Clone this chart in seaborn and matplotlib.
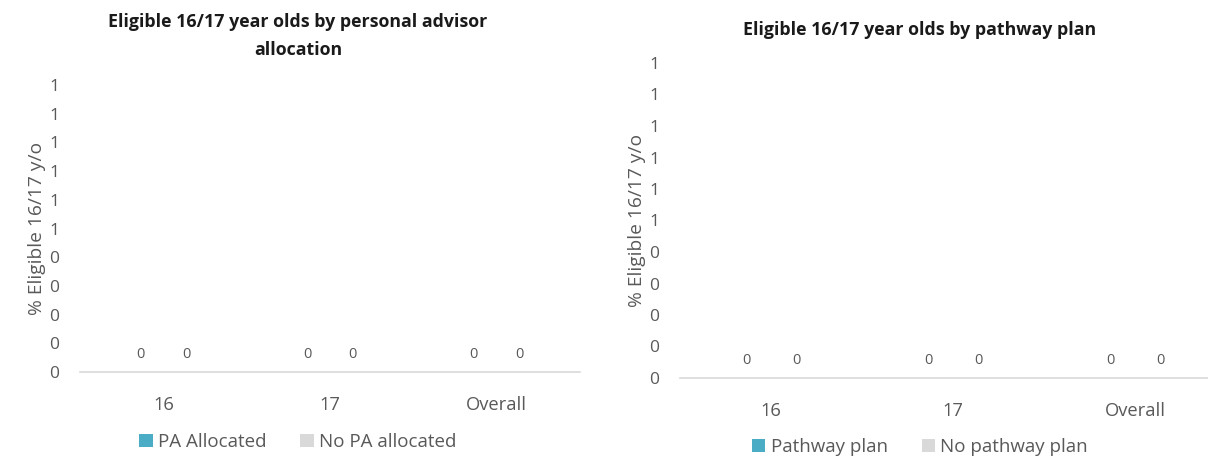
import numpy as np
import pandas as pd
import matplotlib
matplotlib.use("Agg")
import matplotlib.pyplot as plt
import seaborn as sns
from matplotlib.patches import Patch

sns.set_theme(style="white")
plt.rcParams['font.family'] = ['Open Sans', 'DejaVu Sans']

categories = ["16", "17", "Overall"]
pa_allocated = [0, 0, 0]
no_pa_allocated = [0, 0, 0]
pathway_plan = [0, 0, 0]
no_pathway_plan = [0, 0, 0]
ytick_values = [0.0, 0.1, 0.2, 0.3, 0.4, 0.5, 0.6, 0.7, 0.8, 0.9, 1.0]
ytick_labels = ["0", "0", "0", "0", "0", "1", "1", "1", "1", "1", "1"]

TEAL = "#4BACC6"
GREY = "#D9D9D9"
TXT = "#595959"

fig = plt.figure(figsize=(12.08, 4.57), dpi=100)
ax1 = fig.add_axes([80/1208, 1-372/457, 500/1208, (372-85)/457])
ax2 = fig.add_axes([680/1208, 1-378/457, 546/1208, (378-63)/457])


def draw(ax, s1, s2, n1, n2, title, title_xy, legend_y):
    df = pd.DataFrame({
        "cat": categories * 2,
        "val": list(s1) + list(s2),
        "series": [n1] * len(categories) + [n2] * len(categories),
    })
    sns.barplot(data=df, x="cat", y="val", hue="series", palette=[TEAL, GREY],
                width=0.55, linewidth=0, ax=ax, legend=False)
    for cont in ax.containers:
        ax.bar_label(cont, labels=[f"{v:.0f}" for v in cont.datavalues],
                     padding=7, fontsize=10.5, color=TXT)
    ax.set_ylim(0, 1.0)
    ax.set_xlim(-0.5, 2.5)
    ax.set_yticks(ytick_values)
    ax.set_yticklabels(ytick_labels)
    ax.tick_params(axis="y", length=0, labelsize=12.5, labelcolor=TXT, pad=15)
    ax.tick_params(axis="x", length=0, labelsize=13.2, labelcolor=TXT, pad=17)
    ax.set_xlabel("")
    ax.set_ylabel("% Eligible 16/17 y/o", fontsize=13.8, color=TXT, labelpad=2)
    for sp in ["top", "right", "left"]:
        ax.spines[sp].set_visible(False)
    ax.spines["bottom"].set_color(GREY)
    ax.spines["bottom"].set_linewidth(1.2)
    ax.grid(False)
    fig.text(title_xy[0], title_xy[1], title, ha="center", va="center",
             fontsize=12.8, fontweight="bold", color="#1a1a1a", linespacing=1.75)
    handles = [Patch(facecolor=TEAL, edgecolor="none", label=n1),
               Patch(facecolor=GREY, edgecolor="none", label=n2)]
    fig.legend(handles=handles, loc="center", bbox_to_anchor=(title_xy[0], legend_y),
               ncol=2, frameon=False, fontsize=13.5, labelcolor=TXT,
               handlelength=0.7, handleheight=0.7, handletextpad=0.3,
               columnspacing=1.8)


draw(ax1, pa_allocated, no_pa_allocated, "PA Allocated", "No PA allocated",
     "Eligible 16/17 year olds by personal advisor\nallocation",
     (298/1208, 1-36/457), 1-442/457)
draw(ax2, pathway_plan, no_pathway_plan, "Pathway plan", "No pathway plan",
     "Eligible 16/17 year olds by pathway plan",
     (920/1208, 1-30/457), 1-447/457)

fig.savefig("out.png", dpi=100)
